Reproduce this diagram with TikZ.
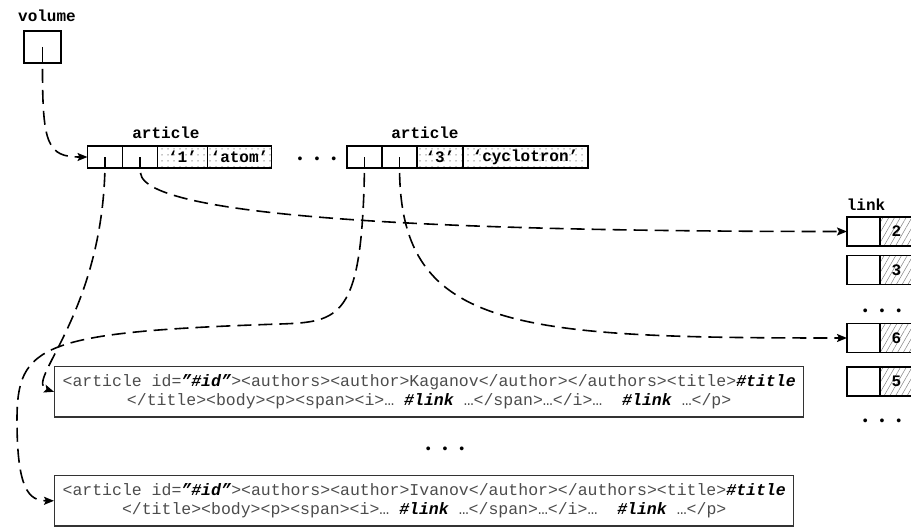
\documentclass[tikz,border=0pt]{standalone}
\usepackage{fontspec}
\setmonofont{Liberation Mono}
\usetikzlibrary{positioning,arrows.meta,patterns.meta}
\newcommand{\hl}[1]{\textcolor{black}{\textbf{\textit{#1}}}}
\begin{document}
\begin{tikzpicture}[x=1pt,y=1pt,
  lbl/.style={font=\fontsize{16}{19}\selectfont\ttfamily\bfseries},
  cell/.style={draw,line width=1.6pt,inner sep=0pt,outer sep=0pt,minimum height=22pt,
    font=\fontsize{16}{19}\selectfont\ttfamily\bfseries},
  ptr/.style={cell,minimum width=35pt},
  val/.style={cell,pattern={Dots[distance=6pt,radius=0.75pt]},pattern color=black!45},
  lcell/.style={cell,minimum width=33pt,minimum height=29pt},
  lnum/.style={lcell,pattern={Lines[angle=60,distance=5pt,line width=0.5pt]},pattern color=gray},
  record/.style={draw=black!80,line width=1.2pt,align=center,inner xsep=8pt,inner ysep=8pt,
    text=black!70,font=\fontsize{16.5}{19}\selectfont\ttfamily},
  dots/.style={font=\fontsize{14}{14}\selectfont\ttfamily,inner sep=0pt},
  link/.style={line width=1.6pt,dash pattern=on 14pt off 7pt,shorten <=5pt,
    -{Stealth[length=10pt,width=8pt,inset=2pt]}}]
  \useasboundingbox (0,0) rectangle (911,-527);
  \clip (0,0) rectangle (911,-527);

  \node[lbl] (volname) at (47,-16) {volume};
  \node[draw,line width=1.7pt,minimum width=37pt,minimum height=32pt,inner sep=0pt] (vol) at (42.5,-47) {};

  \node[lbl] (art1name) at (166,-132.5) {article};
  \node[ptr] (art1a) at (105,-157) {};
  \node[ptr,right=0pt of art1a] (art1b) {};
  \node[val,minimum width=50pt,right=0pt of art1b] (art1id) {‘1’};
  \node[val,minimum width=64pt,right=0pt of art1id] (art1title) {‘atom’};

  \node[dots] (gap1) at (317,-160) {•~•~•};

  \node[lbl] (art2name) at (425,-132.5) {article};
  \node[ptr] (art2a) at (364.5,-157) {};
  \node[ptr,right=0pt of art2a] (art2b) {};
  \node[val,minimum width=46pt,right=0pt of art2b] (art2id) {‘3’};
  \node[val,minimum width=125pt,right=0pt of art2id] (art2title) {‘cyclotron’};

  \foreach \p in {vol,art1a,art1b,art2a,art2b}
    \draw[line width=1.6pt] (\p.center) -- (\p.south);

  \node[lbl] (linkname) at (866,-205) {link};
  \foreach \n/\y [count=\i] in {2/231.5,3/270,6/338,5/381.5} {
    \node[lcell] (link\i-a) at (863.5,-\y) {};
    \node[lnum,right=0pt of link\i-a] (link\i-b) {\n};
  }
  \node[dots] (gap2) at (882,-312) {•~•~•};
  \node[dots] (gap3) at (882,-422) {•~•~•};

  \node[record,anchor=north west] (rec1) at (54,-366)
    {<article id=\hl{”\#id”}><authors><author>Kaganov</author></authors><title>\hl{\#title}\\
     </title><body><p><span><i>…\ \hl{\#link}\ …</span>…</i>…\ \ \hl{\#link}\ …</p>};
  \node[dots] (gap4) at (445,-450) {•~•~•};
  \node[record,anchor=north west] (rec2) at (54,-475)
    {<article id=\hl{”\#id”}><authors><author>Ivanov</author></authors><title>\hl{\#title}\\
     </title><body><p><span><i>…\ \hl{\#link}\ …</span>…</i>…\ \ \hl{\#link}\ …</p>};

  \draw[link] (vol.south) .. controls +(0,-80) and +(-40,0) .. (art1a.west);
  \draw[link] (art1b.south) .. controls +(5,-50) and +(-400,0) .. (link1-a.west);
  \draw[link] (art2b.south) .. controls +(3,-162) and +(-330,0) .. (link3-a.west);
  \draw[link] (art1a.south) .. controls +(-5,-150) and +(-30,10) .. (rec1.west);
  \draw[link] (art2a.south) .. controls +(-3,-150) and +(60,2) .. (280,-324)
    .. controls +(-240,-8) and +(0,75) .. (17,-420)
    .. controls +(0,-70) and +(-25,0) .. (rec2.west);
\end{tikzpicture}
\end{document}
